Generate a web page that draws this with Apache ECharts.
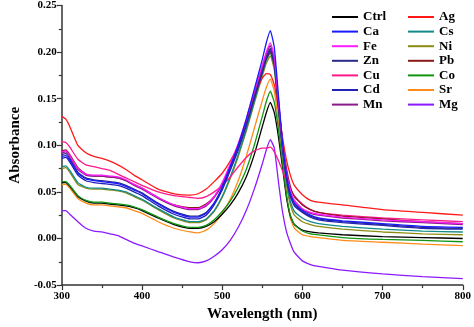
<!DOCTYPE html>
<html><head><meta charset="utf-8">
<script src="https://cdn.jsdelivr.net/npm/echarts@6/dist/echarts.min.js"></script>
<style>html,body{margin:0;padding:0;background:#fff}#c{width:474px;height:327px}</style>
</head><body><div id="c"></div>
<script>
const wavelengths = [300,305,310,320,330,340,350,360,370,380,390,400,420,440,460,470,480,490,500,510,520,530,540,550,555,560,565,570,575,580,585,590,600,610,620,650,700,750,800];

const Ctrl = [0.060,0.060,0.056,0.045,0.040,0.038,0.038,0.037,0.036,0.035,0.033,0.030,0.022,0.015,0.011,0.011,0.013,0.018,0.026,0.036,0.049,0.066,0.090,0.120,0.135,0.146,0.135,0.110,0.078,0.045,0.024,0.015,0.009,0.007,0.006,0.004,0.002,0.001,0.000];
const Ca   = [0.088,0.089,0.084,0.070,0.064,0.062,0.061,0.060,0.059,0.056,0.052,0.048,0.037,0.028,0.023,0.023,0.027,0.038,0.055,0.077,0.100,0.128,0.160,0.192,0.210,0.223,0.205,0.155,0.105,0.070,0.048,0.038,0.030,0.025,0.022,0.019,0.016,0.013,0.012];
const Fe   = [0.093,0.094,0.089,0.075,0.069,0.068,0.068,0.067,0.066,0.063,0.058,0.054,0.044,0.036,0.032,0.032,0.036,0.045,0.060,0.080,0.102,0.128,0.158,0.186,0.200,0.210,0.195,0.150,0.105,0.072,0.052,0.041,0.032,0.028,0.026,0.023,0.020,0.018,0.016];
const Zn   = [0.090,0.091,0.086,0.071,0.065,0.063,0.062,0.061,0.060,0.057,0.053,0.049,0.038,0.029,0.024,0.024,0.028,0.038,0.054,0.075,0.097,0.123,0.152,0.180,0.195,0.204,0.189,0.145,0.100,0.067,0.046,0.036,0.029,0.024,0.021,0.018,0.015,0.012,0.011];
const Cu   = [0.104,0.103,0.098,0.085,0.079,0.077,0.075,0.073,0.069,0.065,0.061,0.057,0.050,0.046,0.044,0.043,0.045,0.050,0.057,0.066,0.077,0.087,0.094,0.097,0.097,0.098,0.093,0.084,0.073,0.062,0.053,0.046,0.037,0.031,0.028,0.025,0.022,0.020,0.018];
const Cd   = [0.086,0.087,0.082,0.068,0.062,0.060,0.059,0.058,0.057,0.054,0.050,0.046,0.035,0.026,0.021,0.021,0.025,0.036,0.052,0.073,0.095,0.121,0.150,0.178,0.193,0.202,0.187,0.143,0.098,0.065,0.045,0.035,0.028,0.023,0.020,0.017,0.014,0.011,0.010];
const Mn   = [0.092,0.093,0.088,0.074,0.068,0.067,0.067,0.066,0.065,0.062,0.057,0.053,0.043,0.035,0.031,0.031,0.035,0.044,0.058,0.078,0.100,0.126,0.156,0.184,0.198,0.207,0.192,0.148,0.103,0.070,0.050,0.040,0.031,0.027,0.025,0.022,0.019,0.017,0.015];
const Ag   = [0.131,0.128,0.120,0.100,0.092,0.088,0.086,0.083,0.079,0.074,0.068,0.063,0.053,0.048,0.0465,0.048,0.053,0.061,0.070,0.083,0.100,0.125,0.153,0.172,0.177,0.176,0.165,0.140,0.110,0.085,0.068,0.057,0.047,0.041,0.039,0.036,0.031,0.028,0.025];
const Cs   = [0.077,0.078,0.073,0.060,0.055,0.054,0.054,0.053,0.052,0.050,0.046,0.042,0.032,0.023,0.018,0.018,0.021,0.030,0.045,0.066,0.090,0.117,0.147,0.177,0.191,0.199,0.184,0.140,0.095,0.062,0.040,0.029,0.022,0.018,0.016,0.013,0.010,0.008,0.007];
const Ni   = [0.075,0.076,0.071,0.058,0.054,0.053,0.053,0.052,0.051,0.049,0.045,0.041,0.031,0.022,0.017,0.017,0.020,0.029,0.044,0.064,0.088,0.115,0.145,0.174,0.188,0.196,0.181,0.137,0.092,0.058,0.036,0.025,0.018,0.015,0.013,0.010,0.007,0.005,0.004];
const Pb   = [0.094,0.095,0.090,0.076,0.069,0.067,0.067,0.066,0.065,0.062,0.058,0.054,0.044,0.036,0.033,0.033,0.037,0.045,0.058,0.077,0.098,0.123,0.152,0.180,0.193,0.200,0.187,0.148,0.106,0.076,0.056,0.045,0.036,0.031,0.028,0.024,0.021,0.018,0.016];
const Co   = [0.061,0.061,0.057,0.046,0.041,0.039,0.039,0.038,0.037,0.036,0.034,0.031,0.023,0.016,0.012,0.012,0.014,0.020,0.029,0.040,0.055,0.074,0.100,0.131,0.147,0.158,0.146,0.118,0.083,0.048,0.025,0.015,0.008,0.005,0.004,0.001,-0.001,-0.002,-0.0035];
const Sr   = [0.058,0.058,0.054,0.043,0.038,0.036,0.036,0.035,0.034,0.033,0.030,0.027,0.018,0.011,0.007,0.006,0.009,0.016,0.027,0.042,0.062,0.088,0.118,0.148,0.162,0.171,0.158,0.125,0.085,0.048,0.022,0.011,0.004,0.002,0.001,-0.002,-0.004,-0.006,-0.0077];
const Mg   = [0.030,0.030,0.026,0.018,0.011,0.008,0.007,0.005,0.003,-0.001,-0.005,-0.008,-0.014,-0.020,-0.025,-0.026,-0.024,-0.019,-0.012,-0.002,0.012,0.030,0.053,0.080,0.095,0.106,0.097,0.062,0.030,0.008,-0.005,-0.015,-0.024,-0.028,-0.030,-0.034,-0.038,-0.041,-0.043];

const legendLeft  = ['Ctrl','Ca','Fe','Zn','Cu','Cd','Mn'];
const legendRight = ['Ag','Cs','Ni','Pb','Co','Sr','Mg'];
const xTicks = [300,400,500,600,700,800];
const yTicks = [-0.05,0.00,0.05,0.10,0.15,0.20,0.25];

const seriesData = {Ctrl,Ca,Fe,Zn,Cu,Cd,Mn,Ag,Cs,Ni,Pb,Co,Sr,Mg};
const colors = {Ctrl:'#000000',Ca:'#1a1aff',Fe:'#ff1aff',Zn:'#2a2a8a',Cu:'#ff1a8c',Cd:'#2222b8',Mn:'#8a1a8a',
  Ag:'#ff1a1a',Cs:'#128a8a',Ni:'#8c8c12',Pb:'#8a1a1a',Co:'#129612',Sr:'#ff8c1a',Mg:'#8c1aff'};
const drawOrder = ['Mg','Sr','Ctrl','Co','Ni','Cs','Cu','Ag','Pb','Cd','Zn','Mn','Fe','Ca'];

const FONT = '"Liberation Serif","Times New Roman",serif';
const chart = echarts.init(document.getElementById('c'), null, {renderer:'canvas'});
const series = drawOrder.map(n => ({
  name:n, type:'line', showSymbol:false, smooth:0.15,
  data: wavelengths.map((w,i)=>[w, seriesData[n][i]]),
  lineStyle:{width:1.3, color:colors[n]}, itemStyle:{color:colors[n]}, animation:false
}));
const legendCommon = {
  orient:'vertical', top:5, itemWidth:26, itemHeight:2, itemGap:0.6, icon:'rect',
  textStyle:{fontFamily:FONT, fontWeight:'bold', fontSize:13, lineHeight:14, color:'#000', padding:[0,0,0,0]},
  selectedMode:false
};
chart.setOption({
  backgroundColor:'#fff',
  animation:false,
  grid:{left:44, right:8, top:5, bottom:36},
  legend:[
    Object.assign({left:327, data:legendLeft}, legendCommon),
    Object.assign({left:403, data:legendRight}, legendCommon)
  ],
  xAxis:{type:'value', min:300, max:800, interval:100,
    name:'Wavelength (nm)', nameLocation:'middle', nameGap:21,
    nameTextStyle:{fontFamily:FONT, fontWeight:'bold', fontSize:15, color:'#000'},
    axisLine:{onZero:false, lineStyle:{color:'#333', width:1.5}},
    axisTick:{length:5, lineStyle:{color:'#333', width:1.2}},
    minorTick:{show:true, splitNumber:2, length:3, lineStyle:{color:'#333', width:1.2}},
    splitLine:{show:false},
    axisLabel:{fontFamily:FONT, fontWeight:'bold', fontSize:11, color:'#000', margin:6,
      formatter:v=> xTicks.includes(v)? String(v):''}
  },
  yAxis:{type:'value', min:-0.05, max:0.25, interval:0.05,
    name:'Absorbance', nameLocation:'middle', nameGap:33, nameRotate:90,
    nameTextStyle:{fontFamily:FONT, fontWeight:'bold', fontSize:15, color:'#000'},
    axisLine:{show:true, onZero:false, lineStyle:{color:'#333', width:1.5}},
    axisTick:{show:true, length:5, lineStyle:{color:'#333', width:1.2}},
    minorTick:{show:true, splitNumber:2, length:3, lineStyle:{color:'#333', width:1.2}},
    splitLine:{show:false},
    axisLabel:{fontFamily:FONT, fontWeight:'bold', fontSize:11, color:'#000', margin:5,
      formatter:v=>{ const r=Math.round(v*100)/100; const t=yTicks.find(k=>Math.abs(k-r)<1e-9); return t===undefined? '' : t.toFixed(2); }}
  },
  series
});
</script></body></html>
